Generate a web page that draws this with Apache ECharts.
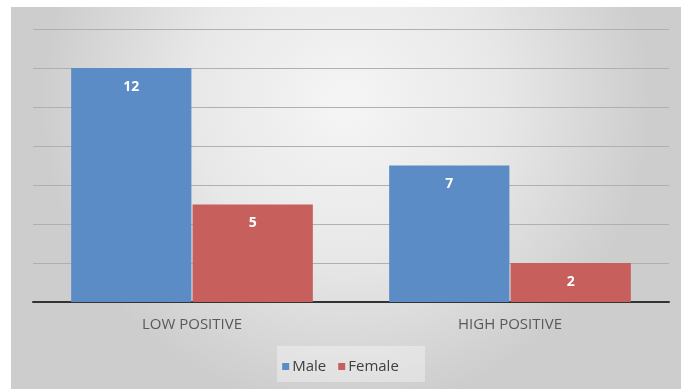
<!DOCTYPE html>
<html>
<head>
<meta charset="utf-8">
<script src="https://cdn.jsdelivr.net/npm/echarts@6/dist/echarts.min.js"></script>
<style>html,body{margin:0;padding:0;background:#fff}#c{width:681px;height:389px}</style>
</head>
<body>
<div id="c"></div>
<script>
var categories = ['LOW POSITIVE', 'HIGH POSITIVE'];
var maleValues = [12, 7];
var femaleValues = [5, 2];
var seriesNames = ['Male', 'Female'];

var chart = echarts.init(document.getElementById('c'), null, {renderer: 'canvas'});
var labelStyle = {
  show: true, position: 'insideTop', distance: 12,
  color: '#ffffff', fontSize: 14, fontWeight: 'bold', fontFamily: 'Open Sans'
};
chart.setOption({
  animation: false,
  backgroundColor: '#ffffff',
  graphic: [
    {
      type: 'rect', z: -10, silent: true,
      shape: {x: 11, y: 7, width: 670, height: 382},
      style: {
        fill: new echarts.graphic.RadialGradient(0.5, 0.25, 0.8, [
          {offset: 0, color: '#f5f5f5'},
          {offset: 0.5, color: '#e8e8e8'},
          {offset: 1, color: '#cdcdcd'}
        ])
      }
    },
    {
      type: 'rect', z: -5, silent: true,
      shape: {x: 277, y: 346, width: 148, height: 36},
      style: {fill: 'rgba(255,255,255,0.35)'}
    }
  ],
  grid: {left: 33, right: 12, top: 29, bottom: 87, containLabel: false},
  legend: {
    data: seriesNames,
    left: 'center', top: 354,
    itemWidth: 7, itemHeight: 7, itemGap: 12,
    icon: 'rect',
    textStyle: {color: '#404040', fontSize: 15, fontFamily: 'Open Sans', padding: [0, 0, 0, -2]}
  },
  xAxis: {
    type: 'category', data: categories,
    axisLine: {lineStyle: {color: '#333333', width: 2}},
    axisTick: {show: false},
    axisLabel: {color: '#595959', fontSize: 15, fontFamily: 'Open Sans', margin: 15}
  },
  yAxis: {
    type: 'value', min: 0, max: 14, interval: 2,
    axisLabel: {show: false},
    axisLine: {show: false},
    axisTick: {show: false},
    splitLine: {lineStyle: {color: '#b0b0b0', width: 1}}
  },
  series: [
    {
      name: seriesNames[0], type: 'bar', data: maleValues,
      barGap: '1%', barCategoryGap: '24%',
      itemStyle: {color: '#5b8cc6'},
      label: labelStyle
    },
    {
      name: seriesNames[1], type: 'bar', data: femaleValues,
      itemStyle: {color: '#c75f5d'},
      label: labelStyle
    }
  ]
});
</script>
</body>
</html>
